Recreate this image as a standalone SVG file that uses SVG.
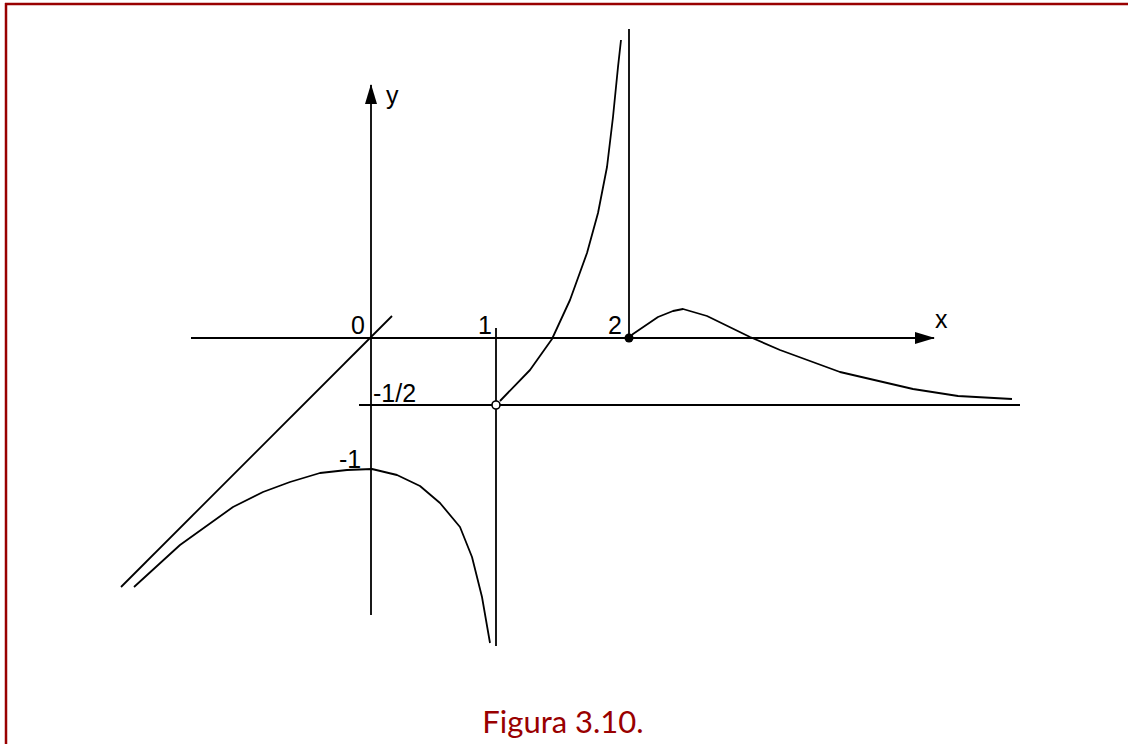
<svg xmlns="http://www.w3.org/2000/svg" width="1128" height="744" viewBox="0 0 1128 744">
<style>
.ln{fill:none;stroke:#000;stroke-width:1.8;stroke-linejoin:round}
.lb{font-family:"Liberation Sans",Arial,sans-serif;font-size:25px;fill:#000}
.cap{font-family:Lato,"Liberation Sans",sans-serif;font-size:31px;fill:#990000}
</style>
<defs>
<marker id="arr" markerWidth="20" markerHeight="12" refX="19" refY="6" orient="auto" markerUnits="userSpaceOnUse">
<path d="M0,0 L20,6 L0,12 Z" fill="#000"/>
</marker>
</defs>
<rect width="1128" height="744" fill="#fff"/>
<g id="frame">
<line x1="5" y1="4" x2="1128" y2="4" stroke="#990000" stroke-width="2.5"/>
<line x1="6" y1="3" x2="6" y2="744" stroke="#990000" stroke-width="2.5"/>
</g>
<g id="connectors">
<line id="x-axis" class="ln" x1="191" y1="338" x2="934" y2="338" marker-end="url(#arr)"/>
<line id="y-axis" class="ln" x1="371" y1="615" x2="371" y2="85" marker-end="url(#arr)"/>
<line id="asym-x1" class="ln" x1="496" y1="328" x2="496" y2="646"/>
<line id="asym-x2" class="ln" x1="629" y1="29" x2="629" y2="338"/>
<line id="asym-h" class="ln" x1="359" y1="405" x2="1020" y2="405"/>
<line id="asym-d" class="ln" x1="121" y1="587" x2="392" y2="316"/>
</g>
<g id="branch-left">
<polyline class="ln" points="134,587 180,545 233,507 263,492 290,482 320,473 347,470 372,469 397,475 420,486 440,503 460,527 472,557 482,597 490,643"/>
</g>
<g id="branch-middle">
<polyline class="ln" points="500,401 530,370 552,339 570,300 587,253 598,213 607,167 613,117 618,67 621,40"/>
<circle cx="496" cy="405" r="4" fill="#fff" stroke="#000" stroke-width="1.6"/>
</g>
<g id="branch-right">
<polyline class="ln" points="629,338 633,334 658,317 673,311 683,309 707,316 750,337 780,350 840,372 913,389 958,396 1012,399"/>
<circle cx="629" cy="338" r="4.5" fill="#000"/>
</g>
<g id="labels">
<text class="lb" x="386" y="104">y</text>
<text class="lb" x="935" y="328">x</text>
<text class="lb" x="351" y="334">0</text>
<text class="lb" x="478" y="334">1</text>
<text class="lb" x="608" y="334">2</text>
<text class="lb" x="373" y="402">-1/2</text>
<text class="lb" x="339" y="468">-1</text>
</g>
<text class="cap" x="563" y="733" text-anchor="middle">Figura 3.10.</text>
</svg>
